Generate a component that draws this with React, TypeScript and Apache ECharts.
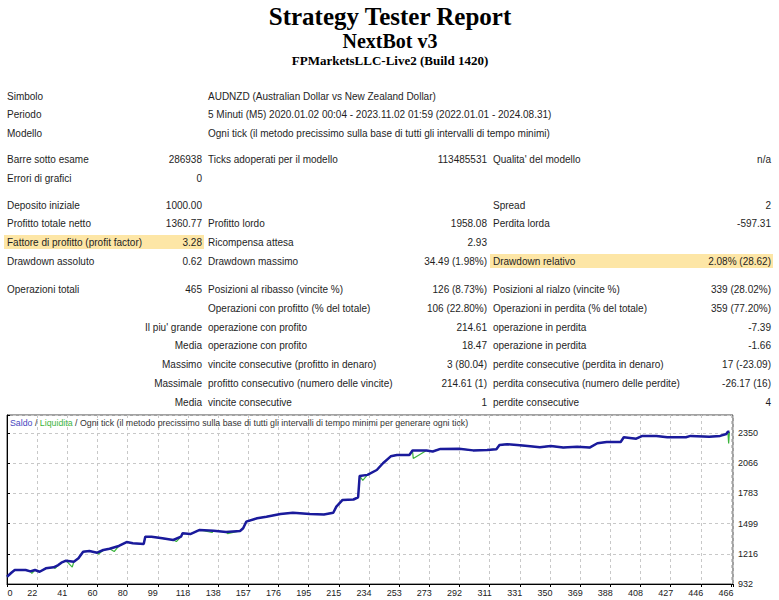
import React, { useEffect, useRef } from 'react';
import * as echarts from 'echarts';

// ---- chart data ----
const balanceTrade = [0, 3, 5, 12, 15, 18, 21, 25, 30, 33, 35, 38, 43, 46, 49, 53, 58, 62, 66, 72, 77, 81, 88, 89, 93, 100, 107, 112, 113, 118, 124, 133, 141, 150, 152, 154, 161, 167, 176, 184, 195, 204, 210, 212, 216, 223, 226, 227, 232, 238, 242, 247, 251, 259, 261, 270, 274, 279, 291, 300, 309, 315, 317, 322, 332, 343, 350, 358, 367, 375, 380, 386, 395, 397, 405, 409, 418, 425, 437, 440, 452, 459, 463, 464, 465];
const balanceValue = [1000, 1040, 1063, 1063, 1050, 1063, 1047, 1079, 1089, 1110, 1132, 1151, 1141, 1173, 1235, 1242, 1226, 1251, 1263, 1289, 1326, 1314, 1308, 1376, 1376, 1361, 1345, 1376, 1408, 1401, 1439, 1432, 1420, 1430, 1455, 1517, 1549, 1564, 1589, 1601, 1589, 1585, 1601, 1658, 1721, 1725, 1746, 1946, 1956, 2002, 2065, 2130, 2143, 2143, 2184, 2184, 2176, 2200, 2202, 2186, 2190, 2197, 2237, 2244, 2231, 2216, 2228, 2212, 2221, 2212, 2253, 2265, 2265, 2309, 2296, 2322, 2322, 2309, 2309, 2322, 2315, 2322, 2340, 2361, 2361];
// equity dips (Liquidita) below the balance
const dipTrade = [16, 31, 42, 59, 69, 109, 132, 142, 229, 261.5, 464.5];
const dipValue = [1032, 1078, 1090, 1214, 1236, 1330, 1415, 1405, 1905, 2110, 2250];

const xTickLabels = ['0', '22', '41', '60', '80', '99', '118', '138', '157', '176', '195', '215', '234', '253', '273', '292', '311', '331', '350', '369', '388', '408', '427', '446', '466'];
const yMin = 932;
const yStep = 283.6;
const xLast = 466;

const titleLines = ['Strategy Tester Report', 'NextBot v3', 'FPMarketsLLC-Live2 (Build 1420)'];

const reportRows: string[][] = [
  ['Simbolo', '', 'AUDNZD (Australian Dollar vs New Zealand Dollar)', '', '', ''],
  ['Periodo', '', '5 Minuti (M5) 2020.01.02 00:04 - 2023.11.02 01:59 (2022.01.01 - 2024.08.31)', '', '', ''],
  ['Modello', '', 'Ogni tick (il metodo precissimo sulla base di tutti gli intervalli di tempo minimi)', '', '', ''],
  ['Barre sotto esame', '286938', 'Ticks adoperati per il modello', '113485531', "Qualita' del modello", 'n/a'],
  ['Errori di grafici', '0', '', '', '', ''],
  ['Deposito iniziale', '1000.00', '', '', 'Spread', '2'],
  ['Profitto totale netto', '1360.77', 'Profitto lordo', '1958.08', 'Perdita lorda', '-597.31'],
  ['Fattore di profitto (profit factor)', '3.28', 'Ricompensa attesa', '2.93', '', ''],
  ['Drawdown assoluto', '0.62', 'Drawdown massimo', '34.49 (1.98%)', 'Drawdown relativo', '2.08% (28.62)'],
  ['Operazioni totali', '465', 'Posizioni al ribasso (vincite %)', '126 (8.73%)', 'Posizioni al rialzo (vincite %)', '339 (28.02%)'],
  ['', '', 'Operazioni con profitto (% del totale)', '106 (22.80%)', 'Operazioni in perdita (% del totale)', '359 (77.20%)'],
  ['', "Il piu' grande", 'operazione con profito', '214.61', 'operazione in perdita', '-7.39'],
  ['', 'Media', 'operazione con profito', '18.47', 'operazione in perdita', '-1.66'],
  ['', 'Massimo', 'vincite consecutive (profitto in denaro)', '3 (80.04)', 'perdite consecutive (perdita in denaro)', '17 (-23.09)'],
  ['', 'Massimale', 'profitto consecutivo (numero delle vincite)', '214.61 (1)', 'perdita consecutiva (numero delle perdite)', '-26.17 (16)'],
  ['', 'Media', 'vincite consecutive', '1', 'perdite consecutive', '4'],
];

// ---- layout ----
const rowY = [96, 114, 133, 159, 178, 205, 223, 242, 261, 289, 308, 327, 345, 364, 383, 402];
const colX = [7, 202, 208, 487, 493, 771];
const colAlign = ['left', 'right', 'left', 'right', 'left', 'right'];
const FONT = '"Liberation Sans", Arial, sans-serif';

export default function App() {
  const ref = useRef<HTMLDivElement>(null);
  useEffect(() => {
    if (!ref.current) return;
    const chart = echarts.init(ref.current, null, { renderer: 'svg' });

    const balanceData = balanceTrade.map((t, i) => [t, balanceValue[i]]);
    const equityData = balanceData
      .concat(dipTrade.map((t, i) => [t, dipValue[i]]))
      .sort((a, b) => a[0] - b[0]);

    const graphics: any[] = [];
    // highlights
    graphics.push({ type: 'rect', shape: { x: 4, y: rowY[7] - 7, width: 200, height: 14 }, style: { fill: '#fde6a6' }, z: 0 });
    graphics.push({ type: 'rect', shape: { x: 490, y: rowY[8] - 7, width: 283, height: 14 }, style: { fill: '#fde6a6' }, z: 0 });

    // titles
    const titleFonts = ['bold 25px "Liberation Serif", serif', 'bold 20px "Liberation Serif", serif', 'bold 13px "Liberation Serif", serif'];
    const titleY = [16, 41, 60];
    titleLines.forEach((t, i) => {
      graphics.push({ type: 'text', x: 390, y: titleY[i], z: 2, style: { text: t, font: titleFonts[i], fill: '#000', align: 'center', verticalAlign: 'middle' } });
    });

    reportRows.forEach((row, r) => {
      row.forEach((cell, c) => {
        if (!cell) return;
        graphics.push({
          type: 'text', x: colX[c], y: rowY[r], z: 2,
          style: { text: cell, font: '10px ' + FONT, fill: '#1e1e1e', align: colAlign[c], verticalAlign: 'middle' },
        });
      });
    });

    // chart caption
    graphics.push({
      type: 'text', x: 10, y: 423, z: 10,
      style: {
        text: '{s|Saldo}{d| / }{l|Liquidita}{d| / Ogni tick (il metodo precissimo sulla base di tutti gli intervalli di tempo minimi per generare ogni tick)}',
        verticalAlign: 'middle',
        font: '8.8px ' + FONT,
        rich: {
          s: { fill: '#4848c0', font: '8.8px ' + FONT },
          l: { fill: '#3cb43c', font: '8.8px ' + FONT },
          d: { fill: '#333', font: '8.8px ' + FONT },
        },
      },
    });

    const xInterval = xLast / (xTickLabels.length - 1);

    chart.setOption({
      animation: false,
      backgroundColor: '#fff',
      grid: { left: 7, top: 415, width: 726, height: 169, show: true, borderColor: '#444', borderWidth: 1, backgroundColor: '#fff' },
      xAxis: {
        type: 'value', min: 0, max: 467.3, interval: xInterval,
        axisLine: { show: true, onZero: false, lineStyle: { color: '#000', width: 1 } },
        axisTick: { show: true, length: 3, lineStyle: { color: '#000' } },
        splitLine: { show: true, lineStyle: { color: '#c8c8c8', type: [3, 3] } },
        axisLabel: {
          margin: 4,
          formatter: (v: number) => {
            const k = v / xInterval;
            const r = Math.round(k);
            if (Math.abs(k - r) > 0.01 || r >= xTickLabels.length) return '';
            return r === 0 ? '{z|' + xTickLabels[r] + '}' : '{n|' + xTickLabels[r] + '}';
          },
          rich: {
            n: { fontSize: 9, fontFamily: FONT, color: '#222', padding: [0, 10, 0, 0] },
            z: { fontSize: 9, fontFamily: FONT, color: '#222', padding: [0, 0, 0, 6] },
          },
        },
      },
      yAxis: {
        type: 'value', position: 'right', min: yMin, max: 2518, interval: yStep,
        axisLine: { show: true, lineStyle: { color: '#000', width: 1 } },
        axisTick: { show: true, length: 3, lineStyle: { color: '#000' } },
        splitLine: { show: true, lineStyle: { color: '#c8c8c8', type: [3, 3] } },
        axisLabel: {
          margin: 5, fontSize: 9, fontFamily: FONT, color: '#222',
          formatter: (v: number) => (v > 2400 ? '' : String(Math.round(v))),
        },
      },
      series: [
        { type: 'line', data: equityData, symbol: 'none', lineStyle: { color: '#3cb43c', width: 1.2 }, z: 2 },
        { type: 'line', data: balanceData, symbol: 'none', lineStyle: { color: '#1a1a9c', width: 2.5 }, z: 3 },
      ],
      graphic: graphics,
    });
    return () => chart.dispose();
  }, []);
  return <div ref={ref} style={{ position: 'absolute', left: 0, top: 0, width: 779, height: 600, background: '#fff' }} />;
}
